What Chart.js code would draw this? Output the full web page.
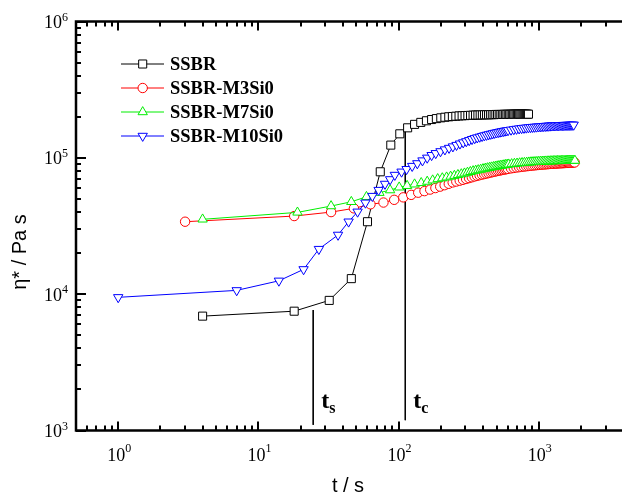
<!DOCTYPE html>
<html><head><meta charset="utf-8">
<script src="https://cdn.jsdelivr.net/npm/chart.js@4.4.1/dist/chart.umd.min.js"></script>
<style>html,body{margin:0;padding:0;background:#fff;overflow:hidden}#wrap{width:622px;height:494px;overflow:hidden}canvas{display:block}</style>
</head><body>
<div id="wrap"><canvas id="c" width="640" height="494"></canvas></div>
<script>
// ---------- data ----------
const seriesNames = ['SSBR', 'SSBR-M3Si0', 'SSBR-M7Si0', 'SSBR-M10Si0'];

const ssbrT = [4,18,32,46,60,74,88,102,116,130,144,158,172,186,200,214,228,242,256,270,284,298,312,326,340,354,368,382,396,410,424,438,452,466,480,494,508,522,536,550,564,578,592,606,620,634,648,662,676,690,704,718,732,746,760,774,788,802,816,830,844];
const ssbrEta = [6900,7500,9000,13000,34000,79000,124000,150000,166000,176000,182000,187000,191000,194000,196500,198500,200000,201000,202000,203000,203500,204000,204500,205000,205500,206000,206000,206500,206500,207000,207000,207000,207500,207500,207500,208000,208000,208000,208000,208000,208500,208500,208500,208500,208500,208500,209000,209000,209000,209000,209000,209000,209000,209000,209000,209000,209000,209000,209000,209000,209000];

const m3T = [3,18,33,48,63,78,93,108,123,138,153,168,183,198,213,228,243,258,273,288,303,318,333,348,363,378,393,408,423,438,453,468,483,498,513,528,543,558,573,588,603,633,663,693,723,753,783,813,843,873,903,933,963,993,1023,1053,1083,1113,1143,1173,1203,1233,1263,1293,1323,1353,1383,1413,1443,1473,1503,1533,1563,1593,1623,1653,1683,1713,1743,1773,1803];
const m3Eta = [34000,37400,40000,42600,45600,47000,49200,51300,53500,55500,57000,58500,60000,61500,63000,64500,66000,67000,68000,69000,70000,71000,72000,73000,73800,74600,75400,76000,76700,77300,78000,78600,79200,79800,80300,80800,81300,81800,82200,82600,83000,83700,84300,84900,85400,85900,86300,86700,87100,87500,87800,88100,88400,88700,89000,89200,89400,89600,89800,90000,90200,90400,90600,90700,90800,91000,91100,91200,91300,91400,91500,91600,91700,91800,91900,92000,92100,92200,92300,92400,92500];

const m7T = [4,19,33,46,59,73,87,101,115,130,145,160,175,190,205,220,235,250,265,280,295,310,325,340,355,370,385,400,415,430,445,460,475,490,505,520,535,550,565,580,595,610,640,670,700,730,760,790,820,850,880,910,940,970,1000,1030,1060,1090,1120,1150,1180,1210,1240,1270,1300,1330,1360,1390,1420,1450,1480,1510,1540,1570,1600,1630,1660,1690,1720,1750,1780,1810];
const m7Eta = [35400,39800,44300,47600,51800,55500,58000,60800,62400,64000,65500,67000,68500,70000,71000,72000,73000,74000,75000,76000,77000,78000,79000,80000,80700,81400,82100,82800,83500,84100,84700,85300,85800,86300,86800,87300,87700,88100,88500,88900,89300,89600,90100,90600,91000,91400,91800,92100,92400,92700,93000,93200,93400,93600,93800,94000,94100,94200,94300,94400,94500,94600,94700,94800,94850,94900,94950,95000,95050,95100,95150,95200,95250,95300,95350,95400,95400,95450,95450,95500,95500,95500];

const m10T = [1,7,14,21,27,37,44,51,58,65,72,80,87,94,105,114,125,136,148,160,172,184,199,214,229,244,259,274,289,304,319,334,349,364,379,394,409,424,439,454,469,484,499,514,529,544,559,574,589,604,634,664,694,724,754,784,814,844,874,904,934,964,994,1024,1054,1084,1114,1144,1174,1204,1234,1264,1294,1324,1354,1384,1414,1444,1474,1504,1534,1564,1594,1624,1654,1684,1714,1744,1774];
const m10Eta = [9480,10660,12530,15200,21400,27200,34000,40200,46800,52400,58000,64300,69500,74800,79000,82500,87000,91000,95500,100000,104500,108000,111500,115000,118000,121000,124000,127000,129500,132000,134500,137000,139000,140800,142500,144200,145700,147100,148400,149600,150800,152000,153100,154100,155100,156000,156900,157700,158500,159200,160500,161700,162800,163800,164700,165500,166200,166900,167500,168000,168500,169000,169400,169800,170200,170600,171000,171300,171600,171900,172200,172400,172600,172800,173000,173200,173400,173500,173600,173700,173800,173900,174000,174100,174200,174300,174400,174500,174600];

// marker lines t_s and t_c
const tsT = [24.6, 24.6];
const tsEta = [7650, 1100];
const tcT = [111.6, 111.6];
const tcEta = [166000, 1190];

// tick labels
const xTickValues = [1, 10, 100, 1000];
const xTickExp = ['0', '1', '2', '3'];
const yTickValues = [1e3, 1e4, 1e5, 1e6];
const yTickExp = ['3', '4', '5', '6'];

// ---------- chart ----------
const colors = ['#000000', '#ff0000', '#00ee00', '#0000ff'];
const styles = [
  {pointStyle: 'rect', radius: 5.7, rotation: 0},
  {pointStyle: 'circle', radius: 4.7, rotation: 0},
  {pointStyle: 'triangle', radius: 5.4, rotation: 0},
  {pointStyle: 'triangle', radius: 5.4, rotation: 180}
];
const zip = (a, b) => a.map((v, i) => ({x: v, y: b[i]}));
const seriesData = [zip(ssbrT, ssbrEta), zip(m3T, m3Eta), zip(m7T, m7Eta), zip(m10T, m10Eta)];

const datasets = seriesData.map((d, i) => ({
  label: seriesNames[i],
  data: d,
  borderColor: colors[i],
  borderWidth: 1,
  pointStyle: styles[i].pointStyle,
  pointRadius: styles[i].radius,
  pointRotation: styles[i].rotation,
  pointBackgroundColor: '#ffffff',
  pointBorderColor: colors[i],
  pointBorderWidth: 1,
  tension: 0,
  fill: false,
  order: 4 - i
}));
[[tsT, tsEta], [tcT, tcEta]].forEach(([a, b], k) => datasets.push({
  label: k ? 'tc' : 'ts', data: zip(a, b), borderColor: '#000', borderWidth: 1,
  pointRadius: 0, fill: false, order: 10
}));

const serif = '"Liberation Serif","Times New Roman",serif';
const sans = '"Liberation Sans",Arial,sans-serif';

const deco = {
  id: 'deco',
  afterDraw(chart) {
    const {ctx, chartArea: a, scales: {x, y}} = chart;
    ctx.save();
    // axes
    ctx.strokeStyle = '#000';
    ctx.lineWidth = 2.5;
    ctx.beginPath();
    ctx.moveTo(a.right + 2, a.top); ctx.lineTo(a.left, a.top);
    ctx.lineTo(a.left, a.bottom); ctx.lineTo(a.right + 2, a.bottom);
    ctx.stroke();
    // ticks
    ctx.lineWidth = 2;
    ctx.beginPath();
    for (let d = -1; d <= 3; d++) {
      for (let m = 1; m <= 9; m++) {
        const v = m * Math.pow(10, d);
        if (v < x.min || v > x.max) continue;
        const px = Math.round(x.getPixelForValue(v));
        const L = m === 1 ? 9 : 5;
        ctx.moveTo(px, a.bottom); ctx.lineTo(px, a.bottom - L);
        ctx.moveTo(px, a.top); ctx.lineTo(px, a.top + L);
      }
    }
    for (let d = 3; d <= 6; d++) {
      for (let m = 1; m <= 9; m++) {
        const v = m * Math.pow(10, d);
        if (v < y.min || v > y.max) continue;
        const py = Math.round(y.getPixelForValue(v));
        const L = m === 1 ? 10 : 5;
        ctx.moveTo(a.left, py); ctx.lineTo(a.left + L, py);
      }
    }
    ctx.stroke();
    // tick labels
    ctx.fillStyle = '#000';
    ctx.textBaseline = 'alphabetic';
    const big = '18px ' + serif, small = '12px ' + serif;
    xTickValues.forEach((v, i) => {
      const px = x.getPixelForValue(v);
      ctx.font = big; const w1 = ctx.measureText('10').width;
      ctx.font = small; const w2 = ctx.measureText(xTickExp[i]).width;
      const s = px - (w1 + w2) / 2 + 1;
      ctx.font = big; ctx.textAlign = 'left'; ctx.fillText('10', s, 461);
      ctx.font = small; ctx.fillText(xTickExp[i], s + w1, 452);
    });
    yTickValues.forEach((v, i) => {
      const py = y.getPixelForValue(v);
      ctx.font = big; ctx.textAlign = 'right'; ctx.fillText('10', 62, py + 6.5);
      ctx.font = small; ctx.textAlign = 'left'; ctx.fillText(yTickExp[i], 62, py - 1);
    });
    // axis titles
    ctx.font = '20px ' + sans;
    ctx.textAlign = 'center';
    ctx.textBaseline = 'middle';
    ctx.fillText('t / s', 348, 486);
    ctx.save();
    ctx.translate(20, 252);
    ctx.rotate(-Math.PI / 2);
    ctx.fillText('\u03b7* / Pa s', 0, 0);
    ctx.restore();
    // t_s, t_c labels
    ctx.textAlign = 'left';
    ctx.textBaseline = 'alphabetic';
    [[tsT[0], 's'], [tcT[0], 'c']].forEach(([t, sub]) => {
      const px = x.getPixelForValue(t);
      ctx.font = 'bold 24px ' + serif;
      ctx.fillText('t', px + 8, 408);
      const w = ctx.measureText('t').width;
      ctx.font = 'bold 16px ' + serif;
      ctx.fillText(sub, px + 8 + w, 413);
    });
    // legend
    const rows = [64, 88, 112, 136];
    rows.forEach((ry, i) => {
      ctx.strokeStyle = colors[i];
      ctx.lineWidth = 1;
      ctx.beginPath(); ctx.moveTo(121, ry); ctx.lineTo(164, ry); ctx.stroke();
      ctx.fillStyle = '#fff';
      Chart.helpers.drawPoint(ctx, {pointStyle: styles[i].pointStyle, radius: styles[i].radius,
        rotation: styles[i].rotation, borderWidth: 1}, 142.7, ry);
      ctx.fillStyle = '#000';
      ctx.font = 'bold 18.5px ' + serif;
      ctx.textBaseline = 'middle';
      ctx.fillText(seriesNames[i], 170, ry + 1);
    });
    ctx.restore();
  }
};

new Chart(document.getElementById('c'), {
  type: 'line',
  data: {datasets},
  options: {
    responsive: false,
    animation: false,
    devicePixelRatio: 1,
    layout: {padding: {left: 76, top: 21.5, right: 10, bottom: 63.5}},
    plugins: {legend: {display: false}, tooltip: {enabled: false}},
    scales: {
      x: {type: 'logarithmic', min: 0.5, max: 4473, display: false},
      y: {type: 'logarithmic', min: 1000, max: 1000000, display: false}
    }
  },
  plugins: [deco]
});
</script>
</body></html>
